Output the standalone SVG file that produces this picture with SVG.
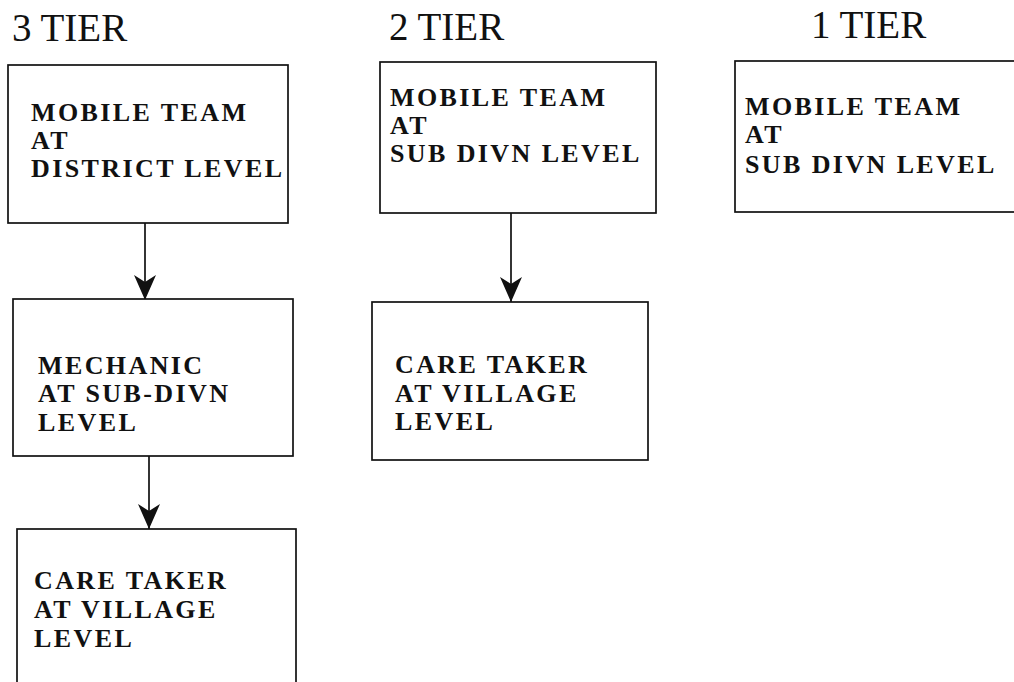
<svg xmlns="http://www.w3.org/2000/svg" width="1014" height="682" viewBox="0 0 1014 682">
<style>
.title{font-family:'Liberation Serif','Times New Roman',serif;font-size:39px;fill:#111;}
.lbl{font-family:'Liberation Serif','Times New Roman',serif;font-size:26px;font-weight:bold;letter-spacing:2.4px;fill:#111;}
.box{fill:#fff;stroke:#111;stroke-width:1.7;}
.conn{stroke:#111;stroke-width:1.7;fill:none;}
</style>
<defs>
<marker id="arr" markerUnits="userSpaceOnUse" markerWidth="26" markerHeight="24" viewBox="0 0 26 24" refX="25" refY="12" orient="auto">
<path d="M0,1 L25,12 L0,23 L7,12 Z" fill="#111"/>
</marker>
</defs>
<rect width="1014" height="682" fill="#fff"/>
<text class="title" x="12" y="41">3 TIER</text>
<text class="title" x="389" y="40">2 TIER</text>
<text class="title" x="811" y="38">1 TIER</text>
<g id="connectors">
<line class="conn" x1="145" y1="223" x2="145" y2="300" marker-end="url(#arr)"/>
<line class="conn" x1="149" y1="456" x2="149" y2="529" marker-end="url(#arr)"/>
<line class="conn" x1="511" y1="213" x2="511" y2="302" marker-end="url(#arr)"/>
</g>
<g id="n1">
<rect class="box" x="8" y="65" width="280" height="158"/>
<text class="lbl" x="31" y="121">MOBILE TEAM</text>
<text class="lbl" x="31" y="149">AT</text>
<text class="lbl" x="31" y="177">DISTRICT LEVEL</text>
</g>
<g id="n2">
<rect class="box" x="13" y="299" width="280" height="157"/>
<text class="lbl" x="38" y="374">MECHANIC</text>
<text class="lbl" x="38" y="402">AT SUB-DIVN</text>
<text class="lbl" x="38" y="431">LEVEL</text>
</g>
<g id="n3">
<rect class="box" x="17" y="529" width="279" height="200"/>
<text class="lbl" x="34" y="589">CARE TAKER</text>
<text class="lbl" x="34" y="618">AT VILLAGE</text>
<text class="lbl" x="34" y="647">LEVEL</text>
</g>
<g id="n4">
<rect class="box" x="380" y="62" width="276" height="151"/>
<text class="lbl" x="390" y="106">MOBILE TEAM</text>
<text class="lbl" x="390" y="134">AT</text>
<text class="lbl" x="390" y="162">SUB DIVN LEVEL</text>
</g>
<g id="n5">
<rect class="box" x="372" y="302" width="276" height="158"/>
<text class="lbl" x="395" y="373">CARE TAKER</text>
<text class="lbl" x="395" y="402">AT VILLAGE</text>
<text class="lbl" x="395" y="430">LEVEL</text>
</g>
<g id="n6">
<rect class="box" x="735" y="61" width="300" height="151"/>
<text class="lbl" x="745" y="115">MOBILE TEAM</text>
<text class="lbl" x="745" y="143">AT</text>
<text class="lbl" x="745" y="173">SUB DIVN LEVEL</text>
</g>
</svg>
